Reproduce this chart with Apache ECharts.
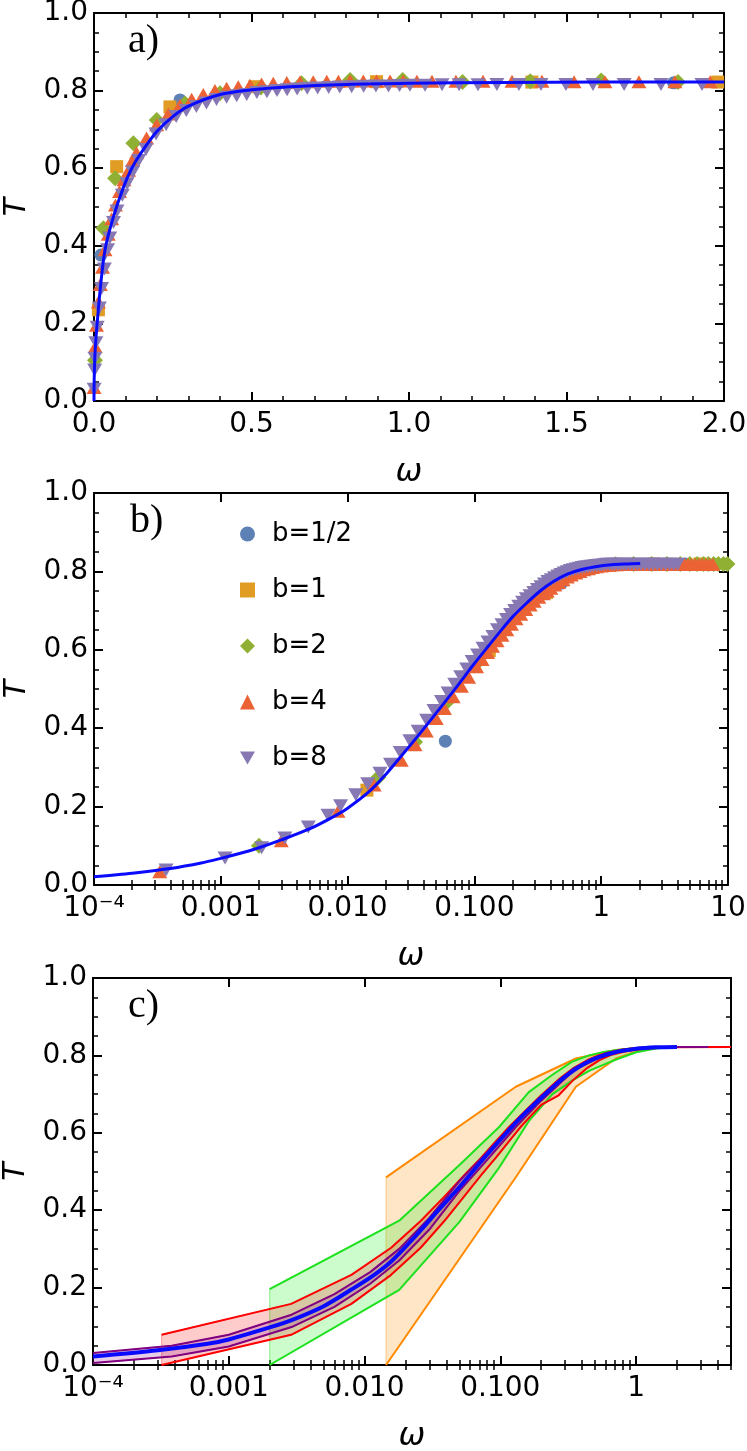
<!DOCTYPE html>
<html>
<head>
<meta charset="utf-8">
<script src="https://cdn.jsdelivr.net/npm/echarts@6/dist/echarts.min.js"></script>
<style>
html,body{margin:0;padding:0;background:#fff;}
#chart{width:747px;height:1451px;}
</style>
</head>
<body>
<div id="chart"></div>
<script>
// ---------------- DATA ----------------
const curveA = [[0,0],[0.0003,0.04],[0.001,0.07],[0.003,0.12],[0.006,0.16],[0.01,0.2],[0.02,0.29],[0.035,0.39],[0.06,0.47],[0.093,0.55],[0.12,0.6],[0.15,0.64],[0.2,0.695],[0.25,0.733],[0.3,0.76],[0.4,0.79],[0.5,0.802],[0.62,0.81],[0.8,0.816],[1.0,0.819],[1.3,0.821],[1.6,0.822],[2.0,0.822]];
const aHalf = [[0.022,0.376],[0.273,0.776],[1.84,0.82]];
const aB1 = [[0.014,0.235],[0.072,0.604],[0.241,0.758],[0.511,0.81],[0.897,0.823],[1.39,0.822],[1.98,0.822]];
const aB2 = [[0.003,0.105],[0.03,0.445],[0.067,0.574],[0.125,0.664],[0.199,0.724],[0.289,0.767],[0.4,0.793],[0.53,0.808],[0.659,0.819],[0.813,0.827],[0.98,0.827],[1.17,0.822],[1.385,0.824],[1.61,0.826],[1.854,0.822]];
const aB4 = [[0.0003,0.035],[0.004,0.14],[0.008,0.195],[0.014,0.255],[0.02,0.3],[0.027,0.345],[0.035,0.39],[0.045,0.43],[0.056,0.47],[0.068,0.505],[0.081,0.54],[0.095,0.57],[0.11,0.595],[0.122,0.62],[0.135,0.64],[0.167,0.678],[0.199,0.712],[0.236,0.74],[0.273,0.762],[0.31,0.778],[0.347,0.79],[0.384,0.8],[0.421,0.806],[0.458,0.81],[0.495,0.814],[0.532,0.817],[0.569,0.819],[0.612,0.821],[0.654,0.822],[0.696,0.823],[0.739,0.824],[0.776,0.824],[0.813,0.825],[0.855,0.825],[0.897,0.825],[0.94,0.825],[0.982,0.825],[1.025,0.824],[1.073,0.824],[1.149,0.824],[1.235,0.824],[1.327,0.824],[1.422,0.824],[1.524,0.823],[1.622,0.823],[1.73,0.823],[1.844,0.823],[1.956,0.823]];
const aB8 = [[0.0004,0.03],[0.002,0.08],[0.003,0.11],[0.006,0.15],[0.01,0.19],[0.017,0.24],[0.024,0.29],[0.033,0.34],[0.043,0.39],[0.05,0.42],[0.062,0.46],[0.073,0.49],[0.09,0.53],[0.105,0.56],[0.123,0.59],[0.142,0.62],[0.165,0.648],[0.197,0.688],[0.229,0.712],[0.261,0.733],[0.293,0.749],[0.325,0.759],[0.357,0.768],[0.389,0.777],[0.421,0.783],[0.453,0.787],[0.485,0.79],[0.517,0.795],[0.549,0.797],[0.581,0.8],[0.613,0.802],[0.645,0.804],[0.677,0.806],[0.71,0.807],[0.745,0.808],[0.78,0.809],[0.818,0.81],[0.856,0.811],[0.895,0.812],[0.935,0.812],[0.97,0.813],[1.003,0.814],[1.051,0.814],[1.105,0.815],[1.159,0.815],[1.219,0.815],[1.279,0.816],[1.349,0.816],[1.419,0.816],[1.498,0.816],[1.584,0.816],[1.683,0.816],[1.8,0.816],[1.93,0.816]];

const curveB = [[0.0001,0.021],[0.0002,0.03],[0.0004,0.042],[0.0007,0.056],[0.001,0.068],[0.0015,0.083],[0.002,0.095],[0.003,0.115],[0.005,0.143],[0.0075,0.172],[0.01,0.196],[0.015,0.24],[0.02,0.282],[0.026,0.326],[0.035,0.376],[0.045,0.42],[0.057,0.462],[0.07,0.499],[0.085,0.535],[0.1,0.565],[0.13,0.611],[0.16,0.647],[0.2,0.684],[0.26,0.72],[0.33,0.75],[0.42,0.774],[0.54,0.793],[0.7,0.805],[0.9,0.812],[1.2,0.817],[1.6,0.819],[2.03,0.82]];
const bHalf = [[0.059,0.367],[0.486,0.77],[4.6,0.819]];
const bB1 = [[0.0142,0.242],[0.131,0.598],[0.37,0.746],[1.0,0.815],[2.6,0.819],[6.0,0.819]];
const bB2 = [[0.002,0.1],[0.0175,0.275],[0.034,0.365],[0.06,0.465],[0.1,0.56],[0.16,0.64],[0.25,0.71],[0.4,0.77],[0.6,0.8],[0.9,0.812],[1.3,0.818],[1.8,0.819],[2.5,0.819],[3.3,0.819],[4.2,0.819],[5.0,0.819],[5.7,0.819],[6.4,0.819],[7.0,0.819],[7.7,0.819],[8.4,0.819],[9.2,0.819],[9.9,0.819]];
const bB4 = [[0.00033,0.034],[0.003,0.113],[0.0084,0.188],[0.0162,0.255],[0.0265,0.318],[0.034,0.358],[0.0417,0.393],[0.05,0.425],[0.058,0.45],[0.068,0.48],[0.0789,0.507],[0.09,0.53],[0.104,0.557],[0.115,0.575],[0.127,0.593],[0.139,0.609],[0.151,0.623],[0.165,0.637],[0.18,0.651],[0.196,0.665],[0.213,0.679],[0.232,0.691],[0.254,0.703],[0.275,0.714],[0.296,0.724],[0.322,0.734],[0.35,0.743],[0.375,0.75],[0.4,0.757],[0.43,0.765],[0.46,0.772],[0.5,0.779],[0.54,0.786],[0.58,0.791],[0.63,0.796],[0.68,0.8],[0.73,0.804],[0.79,0.807],[0.85,0.81],[0.92,0.812],[1.0,0.814],[1.073,0.815],[1.149,0.816],[1.235,0.817],[1.327,0.817],[1.422,0.818],[1.524,0.818],[1.622,0.818],[1.73,0.818],[1.844,0.818],[1.956,0.818],[2.09,0.818],[2.23,0.818],[2.38,0.818],[2.54,0.818],[2.71,0.818],[2.89,0.818],[3.08,0.818],[3.29,0.818],[3.51,0.818],[3.74,0.818],[3.99,0.818],[4.26,0.818],[4.54,0.818],[4.84,0.818],[5.17,0.818],[5.51,0.818],[5.88,0.818],[6.27,0.818],[6.69,0.818],[7.14,0.818],[7.6,0.818]];
const bB8 = [[0.00037,0.038],[0.00108,0.069],[0.0021,0.095],[0.0032,0.12],[0.0049,0.148],[0.007,0.178],[0.0088,0.202],[0.0116,0.23],[0.0144,0.258],[0.018,0.285],[0.0218,0.308],[0.026,0.338],[0.031,0.368],[0.036,0.392],[0.042,0.42],[0.048,0.445],[0.055,0.468],[0.062,0.49],[0.07,0.512],[0.078,0.531],[0.087,0.551],[0.096,0.57],[0.106,0.587],[0.117,0.604],[0.128,0.62],[0.14,0.634],[0.152,0.651],[0.165,0.664],[0.179,0.677],[0.193,0.69],[0.208,0.7],[0.224,0.711],[0.24,0.721],[0.257,0.73],[0.275,0.738],[0.294,0.746],[0.314,0.754],[0.335,0.761],[0.357,0.768],[0.38,0.774],[0.404,0.779],[0.429,0.784],[0.455,0.788],[0.482,0.792],[0.51,0.796],[0.54,0.799],[0.571,0.802],[0.603,0.804],[0.637,0.806],[0.672,0.808],[0.709,0.81],[0.747,0.811],[0.787,0.812],[0.829,0.813],[0.872,0.814],[0.917,0.815],[0.963,0.816],[1.003,0.816],[1.051,0.817],[1.105,0.818],[1.159,0.818],[1.219,0.818],[1.279,0.818],[1.349,0.818],[1.419,0.818],[1.498,0.818],[1.584,0.818],[1.683,0.818],[1.8,0.818],[1.93,0.818],[2.07,0.818],[2.22,0.818],[2.39,0.818],[2.57,0.818],[2.77,0.818],[2.98,0.818],[3.21,0.818],[3.46,0.818],[3.72,0.818],[4.0,0.818]];

const curveC = [[0.0001,0.022],[0.0003,0.038],[0.0007,0.055],[0.001,0.066],[0.002,0.097],[0.003,0.118],[0.005,0.152],[0.008,0.195],[0.012,0.235],[0.016,0.27],[0.024,0.335],[0.035,0.4],[0.05,0.46],[0.07,0.52],[0.1,0.582],[0.14,0.638],[0.2,0.69],[0.3,0.745],[0.45,0.785],[0.7,0.808],[1.0,0.817],[1.4,0.821],[2.0,0.822]];
const purpleW = [0.0001,0.00038,0.001,0.0029,0.006,0.011,0.018,0.03,0.05,0.08,0.13,0.2,0.35,0.6,1.0,2.0,3.4];
const purpleUp = [0.031,0.05,0.078,0.13,0.183,0.24,0.3,0.38,0.475,0.55,0.63,0.695,0.768,0.806,0.818,0.822,0.822];
const purpleLo = [0.005,0.022,0.048,0.098,0.15,0.21,0.27,0.35,0.45,0.53,0.615,0.683,0.762,0.803,0.816,0.822,0.822];
const redW = [0.00032,0.00288,0.008,0.0157,0.0259,0.0387,0.054,0.072,0.0925,0.1158,0.1411,0.169,0.2,0.269,0.348,0.438,0.538,0.65,0.8,1.0,1.3,1.8,5.0];
const redUp = [0.078,0.158,0.233,0.303,0.372,0.435,0.49,0.535,0.578,0.615,0.645,0.672,0.697,0.738,0.768,0.788,0.801,0.809,0.815,0.819,0.821,0.822,0.822];
const redLo = [0,0.078,0.158,0.233,0.303,0.372,0.435,0.49,0.535,0.578,0.615,0.645,0.672,0.697,0.738,0.768,0.788,0.801,0.809,0.815,0.819,0.821,0.822];
const greenW = [0.002,0.018,0.05,0.098,0.162,0.242,0.338,0.45,0.578,0.722,1.0,1.4,2.0];
const greenUp = [0.196,0.373,0.517,0.615,0.705,0.75,0.784,0.8,0.809,0.814,0.819,0.821,0.822];
const greenLo = [0,0.194,0.37,0.51,0.63,0.7,0.735,0.76,0.776,0.79,0.808,0.818,0.822];
const orangeW = [0.0144,0.13,0.36,0.71,1.17,2.0];
const orangeUp = [0.485,0.719,0.792,0.814,0.821,0.822];
const orangeLo = [0,0.485,0.719,0.792,0.818,0.822];

const logTickValues = [1e-4,1e-3,1e-2,1e-1,1,10];
const logTickLabels = ['10\u207B\u2074','0.001','0.010','0.100','1','10'];
const seriesNames = ['b=1/2','b=1','b=2','b=4','b=8'];
const panelLabels = ['a)','b)','c)'];

// ---------------- STYLE ----------------
const FONT = 'DejaVu Sans, sans-serif';
const BLUE = '#0a0aff';
const COLORS = ['#5e81b5','#e19c24','#8fb032','#eb6235','#8778b3'];
const DOWN_TRI = 'path://M0,0L20,0L10,17.3Z';
const SYMS = ['circle','rect','diamond','triangle',DOWN_TRI];
const SIZES = [13,13,16,[15,13],[15,13]];

const grids = [
  {left:94, width:630, top:13, height:388},
  {left:94, width:634, top:493, height:392},
  {left:93, width:638, top:978, height:387}
];

function logLabel(v){
  const k = Math.round(Math.log10(v));
  if (Math.abs(Math.log10(v) - k) > 1e-6) return '';
  const i = logTickValues.findIndex(t => Math.abs(Math.log10(t) - k) < 1e-6);
  return i >= 0 ? logTickLabels[i] : '';
}
function minorLogTicks(maxV){
  const out = [];
  for (let e = -4; e <= 1; e++) for (let m = 2; m <= 9; m++){ const v = m*Math.pow(10,e); if (v <= maxV*1.0001) out.push(+v.toPrecision(3)); }
  return out;
}

const axisLine = {show:true, onZero:false, lineStyle:{color:'#000', width:2}};
const majorTick = {show:true, inside:true, length:9, lineStyle:{color:'#000', width:2}};
const minorTick = {show:true, splitNumber:4, length:5, lineStyle:{color:'#000', width:1.5}};
function lab(extra){ return Object.assign({fontSize:28, fontFamily:FONT, color:'#000'}, extra); }
function omegaName(){ return {fontSize:32, fontStyle:'italic', fontFamily:FONT, color:'#000'}; }

const xAxes = [], yAxes = [];
xAxes.push({type:'value', gridIndex:0, min:0, max:2, interval:0.5, position:'bottom', axisLine, axisTick:majorTick,
  minorTick:Object.assign({}, minorTick, {splitNumber:5}), splitLine:{show:false},
  axisLabel:lab({margin:10, formatter:v=>v.toFixed(1)}),
  name:'\u03C9', nameLocation:'middle', nameGap:56, nameTextStyle:omegaName()});
xAxes.push({type:'value', gridIndex:0, min:0, max:2, interval:0.5, position:'top', axisLine, axisTick:majorTick,
  minorTick:Object.assign({}, minorTick, {splitNumber:5}), splitLine:{show:false}, axisLabel:{show:false}});
function logAxes(gi, maxV){
  const minors = minorLogTicks(maxV);
  xAxes.push({type:'log', logBase:10, gridIndex:gi, min:1e-4, max:maxV, position:'bottom', axisLine, axisTick:majorTick,
    splitLine:{show:false}, minorTick:{show:false},
    axisLabel:lab({margin:10, formatter:logLabel, showMinLabel:true, showMaxLabel:true}),
    name:'\u03C9', nameLocation:'middle', nameGap:56, nameTextStyle:omegaName()});
  xAxes.push({type:'log', logBase:10, gridIndex:gi, min:1e-4, max:maxV, position:'top', axisLine, axisTick:majorTick,
    splitLine:{show:false}, minorTick:{show:false}, axisLabel:{show:false}});
  xAxes.push({type:'log', logBase:10, gridIndex:gi, min:1e-4, max:maxV, position:'top', axisLine:{show:false},
    axisTick:{show:true, inside:true, length:5, customValues:minors, lineStyle:{color:'#000', width:1.5}},
    splitLine:{show:false}, minorTick:{show:false}, axisLabel:{show:false}});
  xAxes.push({type:'log', logBase:10, gridIndex:gi, min:1e-4, max:maxV, position:'bottom', axisLine:{show:false},
    axisTick:{show:true, inside:true, length:5, customValues:minors, lineStyle:{color:'#000', width:1.5}},
    splitLine:{show:false}, minorTick:{show:false}, axisLabel:{show:false}});
}
logAxes(1, 10);
logAxes(2, 5);
for (let g = 0; g < 3; g++){
  yAxes.push({type:'value', gridIndex:g, min:0, max:1, interval:0.2, position:'left', axisLine, axisTick:majorTick, minorTick,
    splitLine:{show:false}, axisLabel:lab({margin:6, formatter:v=>v.toFixed(1)}),
    name:'T', nameLocation:'middle', nameRotate:90, nameGap:62,
    nameTextStyle:{fontSize:30, fontStyle:'italic', fontFamily:FONT, color:'#000'}});
  yAxes.push({type:'value', gridIndex:g, min:0, max:1, interval:0.2, position:'right', axisLine, axisTick:majorTick, minorTick,
    splitLine:{show:false}, axisLabel:{show:false}});
}

const series = [];
function addScatter(sets, xi, yi){
  sets.forEach((d, i) => {
    series.push({type:'scatter', name:seriesNames[i], data:d, xAxisIndex:xi, yAxisIndex:yi,
      symbol:SYMS[i], symbolSize:SIZES[i], itemStyle:{color:COLORS[i], opacity:1},
      clip:true, silent:true, emphasis:{disabled:true}, z:2+i});
  });
}
function addCurve(name, d, xi, yi, w){
  series.push({type:'line', name, data:d, xAxisIndex:xi, yAxisIndex:yi, smooth:0.3,
    symbol:'none', showSymbol:false, lineStyle:{color:BLUE, width:w}, clip:true, silent:true, z:20});
}
addScatter([aHalf,aB1,aB2,aB4,aB8], 0, 0);
addCurve('fit a', curveA, 0, 0, 3);
addScatter([bHalf,bB1,bB2,bB4,bB8], 2, 2);
addCurve('fit b', curveB, 2, 2, 3);

function addBand(W, U, L, fill, edge, line, zf, zl){
  series.push({type:'custom', name:'band', xAxisIndex:6, yAxisIndex:4, data:[[W[0], U[0]]], clip:true, silent:true, z:zf,
    renderItem:function(params, api){
      const pts = [];
      for (let i = 0; i < W.length; i++) pts.push(api.coord([W[i], U[i]]));
      for (let i = W.length-1; i >= 0; i--) pts.push(api.coord([W[i], L[i]]));
      return {type:'polygon', shape:{points:pts}, style:{fill:fill, stroke:edge, lineWidth:1.2}};
    }});
  [U, L].forEach(arr => {
    series.push({type:'line', name:'bandline', data:W.map((w,i)=>[w, arr[i]]), xAxisIndex:6, yAxisIndex:4,
      symbol:'none', showSymbol:false, lineStyle:{color:line, width:2}, clip:true, silent:true, z:zl});
  });
}
addBand(orangeW, orangeUp, orangeLo, 'rgba(255,140,0,0.22)', 'rgba(255,140,0,0.35)', '#ff8a00', 1, 6);
addBand(greenW, greenUp, greenLo, 'rgba(0,235,0,0.2)', 'rgba(0,220,0,0.35)', '#1ee11e', 2, 7);
addBand(redW, redUp, redLo, 'rgba(255,0,0,0.2)', 'rgba(255,0,0,0.3)', '#ff0000', 3, 8);
addBand(purpleW, purpleUp, purpleLo, 'rgba(128,0,128,0.2)', 'rgba(128,0,128,0.3)', '#800080', 4, 9);
series.push({type:'line', name:'fit c', data:curveC, xAxisIndex:6, yAxisIndex:4, smooth:0.3,
  symbol:'none', showSymbol:false, lineStyle:{color:BLUE, width:4}, clip:true, silent:true, z:20});

const graphic = panelLabels.map((t, i) => ({type:'text', left:[128,130,128][i], top:[21,501,986][i],
  style:{text:t, font:'40px "Liberation Serif", serif', fill:'#000'}, silent:true}));

const option = {
  animation:false,
  grid:grids.map(g => Object.assign({outerBoundsMode:'none', containLabel:false}, g)),
  xAxis:xAxes,
  yAxis:yAxes,
  legend:{data:seriesNames, orient:'vertical', left:235, top:516, itemWidth:15, itemHeight:15, itemGap:30,
    selectedMode:false, textStyle:{fontSize:26, fontFamily:FONT, color:'#000', padding:[0,0,0,12]}},
  graphic,
  series
};
const chart = echarts.init(document.getElementById('chart'), null, {renderer:'canvas'});
chart.setOption(option);
</script>
</body>
</html>
